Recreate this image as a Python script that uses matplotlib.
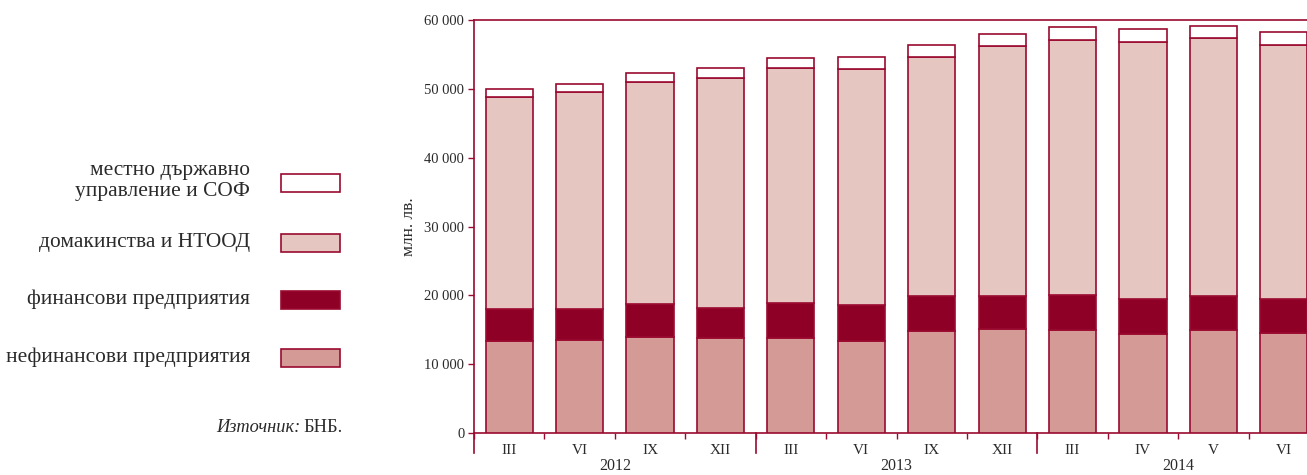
import matplotlib as mpl
import matplotlib.pyplot as plt
import matplotlib.patches as mpatches
import matplotlib.transforms as mtrans
import numpy as np

mpl.rcParams.update({
    "font.family": ["Liberation Serif", "DejaVu Serif"],
    "font.size": 10,
})

# ── data (млн. лв.) ──────────────────────────────────────────────────────────
months = ["III", "VI", "IX", "XII", "III", "VI", "IX", "XII", "III", "IV", "V", "VI"]
years = ["2012", "2013", "2014"]
year_groups = [(0, 3), (4, 7), (8, 11)]   # first / last bar index of each year

nonfinancial = [13310, 13450, 13930, 13830, 13830, 13400, 14800, 15050, 14900, 14410, 14900, 14560]
financial    = [4730, 4590, 4750, 4360, 5080, 5180, 5040, 4880, 5130, 5040, 5030, 4890]
households   = [30840, 31440, 32370, 33330, 34110, 34290, 34780, 36340, 37110, 37300, 37450, 36960]
local_gov    = [1120, 1220, 1250, 1500, 1450, 1800, 1760, 1740, 1890, 1990, 1790, 1890]

series = [
    ("нефинансови предприятия", nonfinancial, "#D49A96"),
    ("финансови предприятия", financial, "#8E0026"),
    ("домакинства и НТООД", households, "#E6C6C1"),
    ("местно държавно\nуправление и СОФ", local_gov, "#FFFFFF"),
]

EDGE = "#9B0A30"
TXT = "#2a2a2a"

fig = plt.figure(figsize=(13.07, 4.75), dpi=100)
ax = fig.add_axes([474 / 1307, 1 - 433 / 475, 845 / 1307, 413 / 475])

x = np.arange(len(months))
bottom = np.zeros(len(months))
for name, vals, col in series:
    ax.bar(x, vals, width=0.67, bottom=bottom, color=col,
           edgecolor=EDGE, linewidth=1.2, zorder=3)
    bottom += np.array(vals)

ax.set_xlim(-0.5, len(months) - 0.5)
ax.set_ylim(0, 60000)
ax.set_yticks(np.arange(0, 60001, 10000))
ax.yaxis.set_major_formatter(mpl.ticker.FuncFormatter(
    lambda v, p: f"{int(v):,}".replace(",", " ")))
ax.tick_params(axis="y", direction="out", length=4, width=1.0, color=EDGE,
               labelcolor=TXT, labelsize=10.5, pad=3)

ax.set_xticks(x)
ax.set_xticklabels(months)
ax.set_xticks(np.arange(-0.5, len(months), 1.0), minor=True)
ax.tick_params(axis="x", which="major", length=0, labelcolor=TXT,
               labelsize=11, pad=8)
ax.tick_params(axis="x", which="minor", direction="out", length=4,
               width=1.0, color=EDGE)

for s in ["left", "top", "bottom"]:
    ax.spines[s].set_color(EDGE)
    ax.spines[s].set_linewidth(1.2)
ax.spines["right"].set_visible(False)

# year separators and labels
trans = mtrans.blended_transform_factory(ax.transData, ax.transAxes)
for (a, b), yr in zip(year_groups, years):
    ax.plot([a - 0.5, a - 0.5], [0, -0.048], transform=trans, color=EDGE,
            lw=1.2, clip_on=False, zorder=4)
    ax.text((a + b) / 2, -0.081, yr, transform=trans, ha="center", va="center",
            fontsize=11.5, color=TXT)

ax.set_ylabel("млн. лв.", fontsize=12.5, color=TXT, labelpad=5)

# ── legend on the left (figure pixel coordinates) ───────────────────────────
lg = fig.add_axes([0, 0, 1, 1], zorder=-1)
lg.set_xlim(0, 1307)
lg.set_ylim(475, 0)
lg.set_axis_off()

legend_rows = [183, 243, 300, 358]
text_rows = [181, 242, 299, 357]
for (name, vals, col), yc, yt in zip(reversed(series), legend_rows, text_rows):
    lg.add_patch(mpatches.Rectangle((281, yc - 9), 59, 18, facecolor=col,
                                    edgecolor=EDGE, linewidth=1.2))
    lg.text(250, yt, name, ha="right", va="center", fontsize=15.4,
            color=TXT, linespacing=1.2)

lg.text(300, 427, "Източник:", ha="right", va="center", fontsize=13.2,
        style="italic", color=TXT)
lg.text(303, 427, "БНБ.", ha="left", va="center", fontsize=13.2, color=TXT)

fig.savefig("out.png", dpi=100)
